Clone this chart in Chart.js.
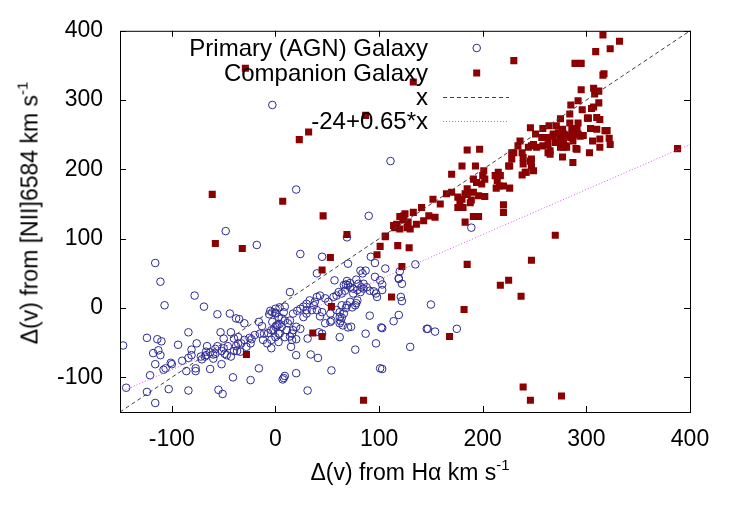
<!DOCTYPE html>
<html>
<head>
<meta charset="utf-8">
<script src="https://cdn.jsdelivr.net/npm/chart.js@4.4.1/dist/chart.umd.min.js"></script>
<style>
    html, body { margin: 0; padding: 0; background: #fff; }
    #wrap { position: relative; width: 736px; height: 515px; font-family: "Liberation Sans", Arial, sans-serif; color: #000; }
    #chart { position: absolute; left: 0; top: 0; }
    .axis-title { position: absolute; font-size: 23px; line-height: 1; white-space: nowrap; }
    .axis-title sup { font-size: 15px; position: relative; top: -4px; vertical-align: top; }
    #xTitle { left: 410px; top: 472px; transform: translate(-50%, -50%); }
    #yTitle { left: 30px; top: 213px; transform: translate(-50%, -50%) rotate(-90deg); }
    .key-label { position: absolute; right: 308px; font-size: 24px; line-height: 24px; height: 24px; white-space: nowrap; }
    .key-mark { position: absolute; left: 440px; width: 72px; height: 24px; }
</style>
</head>
<body>
<div id="wrap">
    <canvas id="chart" width="736" height="515"></canvas>
    <div class="axis-title" id="xTitle">&Delta;(v) from H&alpha; km s<sup>-1</sup></div>
    <div class="axis-title" id="yTitle">&Delta;(v) from [NII]6584 km s<sup>-1</sup></div>
    <div id="key"></div>
</div>

<script>
/* ====================================
   DATA
==================================== */

const xTickValues = [-100, 0, 100, 200, 300, 400];
const yTickValues = [-100, 0, 100, 200, 300, 400];

const keyLabels = ["Primary (AGN) Galaxy", "Companion Galaxy", "x", "-24+0.65*x"];

// end points of the two reference lines
const lineX = [-150, 400];
const identityY = [-150, 400];
const fitY = [-121.5, 236];

const primaryPoints = [
    [-78,18],[-107,4],[-69,2],[-56,-9],[-44,-8],[-38,-15],[-35,-16],[-30,-22],[-84,-35],[-124,-43],
    [-114,-45],[-110,-48],[-94,-53],[-147,-54],[-76,-51],[-118,-65],[-113,-61],[-111,-68],[-116,-81],[-106,-87],
    [-108,-89],[-100,-81],[-101,-79],[-121,-97],[-144,-115],[-124,-121],[-116,-137],[-103,-117],[-84,-119],[-86,-91],
    [-77,-91],[-77,-87],[-90,-76],[-84,-72],[-81,-60],[-71,-74],[-68,-70],[-63,-88],[-67,-68],[-63,-64],
    [-60,-73],[-58,-66],[-56,-55],[-52,-81],[-49,-66],[-52,-62],[-47,-68],[-46,-55],[-43,-70],[-40,-62],
    [-41,-100],[-24,-104],[-16,-87],[-55,-118],[-51,-124],[-43,-35],[-50,-44],[-40,-44],[-36,-51],[-38,-55],
    [-34,-63],[-33,-51],[-30,-46],[-25,-43],[-24,-51],[-36,-42],[-28,-56],[-37,-62],[-53,-35],[-23,-45],
    [-20,-39],[-15,-37],[-11,-37],[-7,-36],[-4,-32],[0,-27],[2,-25],[4,-23],[-12,-46],[-8,-51],
    [-4,-58],[0,-42],[3,-37],[-6,-9],[-3,-6],[0,-7],[-16,-20],[-13,-26],[-50,-58],[-60,-67],
    [-58,-59],[-67,-63],[-66,-55],[-72,-70],[-81,-68],
    [69,102],[24,78],[45,74],[70,64],[92,74],[96,65],[106,57],[135,63],[40,50],[57,40],
    [82,54],[87,54],[84,50],[78,41],[80,35],[69,39],[68,34],[66,33],[72,30],[75,28],
    [79,26],[83,30],[85,35],[91,25],[95,24],[97,21],[98,16],[96,45],[101,40],[119,42],
    [122,35],[121,16],[122,10],[119,-10],[114,-19],[91,-11],[102,-28],[97,-51],[130,-56],[146,-30],
    [87,-37],[77,-60],[101,-87],[54,-90],[20,-94],[9,-98],[8,-101],[34,-67],[41,-72],[20,-68],
    [15,-56],[16,-46],[20,-45],[31,-44],[42,-35],[45,-37],[62,-42],[63,-19],[65,-25],[70,-28],
    [73,-27],[62,-13],[64,-14],[54,-18],[48,-22],[53,-8],[43,-12],[45,-6],[40,-3],[35,-3],
    [30,-8],[27,-13],[24,-30],[20,-27],[17,-32],[16,-37],[14,-41],[0,-8],[3,-13],[6,-15],
    [9,-18],[-3,-20],[1,-25],[6,-27],[11,-32],[-2,-32],[4,-37],[9,-42],[-4,-46],[3,-49],
    [12,-22],[14,-18],[14,23],[40,16],[43,18],[48,14],[51,9],[56,16],[59,18],[61,23],
    [64,21],[67,25],[70,33],[72,36],[75,21],[79,11],[82,23],[85,28],[88,30],[77,4],
    [74,1],[69,4],[64,4],[59,-3],[62,-6],[66,-8],[68,0],[72,9],[78,7],[33,11],
    [30,6],[27,2],[24,-1],[21,-4],[17,-8],[30,-3],[37,4],[38,9],[-5,-4],[0,-1],
    [4,1],[9,2],[8,-6],[7,-103],[31,-119],[62,-22],[53,-20],
    [189,116],[120,53],[119,43],[103,34],[103,26],[150,5],[103,-29],[147,-30],[154,-34],[175,-30],[103,-88],
    [-3,293],[20,171],[111,212],[90,133],[-48,111],[-18,91],[-116,65],[-111,38]
];

const companionPoints = [
    [-29,346],[87,278],[32,254],[23,243],[133,326],[230,357],[-61,164],[7,154],[46,133],[69,106],
    [-58,93],[-32,86],[106,104],[53,73],[45,55],[98,77],[101,89],[118,90],[122,60],[129,87],
    [112,16],[54,2],[36,-36],[45,-41],[-28,-67],[85,-133],[168,-41],[182,-2],[237,17],[217,33],
    [225,40],[185,63],[247,69],[270,105],[239,-114],[246,-133],[276,-127],[388,230],
    [316,394],[332,385],[323,374],[309,370],[289,353],[295,353],[317,338],[316,336],[295,315],[307,317],
    [312,313],[308,309],[307,290],[305,288],[312,296],[292,299],[285,293],[296,286],[284,280],[301,274],
    [313,272],[284,267],[292,267],[286,259],[291,258],[277,258],[279,250],[281,248],[289,250],[297,249],
    [276,244],[278,239],[285,246],[280,234],[278,232],[306,241],[313,244],[322,245],[318,256],[310,258],
    [290,230],[303,224],[277,218],[287,210],[275,273],[302,274],[310,275],
    [246,260],[258,259],[264,263],[271,263],[304,259],[251,251],[257,246],[263,246],[268,248],[273,253],
    [278,251],[292,251],[236,241],[247,234],[252,232],[263,236],[270,239],[276,234],[281,232],[228,224],
    [238,224],[239,217],[247,215],[263,224],[265,222],[226,205],[239,208],[247,205],[249,198],[242,196],
    [238,192],[246,212],[185,228],[197,229],[180,205],[193,205],[201,198],[200,191],[202,186],[191,186],
    [194,181],[199,179],[215,196],[217,191],[212,191],[214,184],[216,176],[220,176],[226,173],[213,173],
    [185,172],[183,165],[191,167],[196,162],[202,161],[189,156],[188,152],[180,157],[181,145],[191,132],
    [196,132],[183,124],[220,149],[220,138],[170,193],[152,157],[159,150],[154,131],[148,133],[143,126],
    [136,121],[130,114],[125,136],[133,138],[141,145],[165,165],[170,167],[176,160],[178,152],[176,145],
    [185,164],[230,224],[228,215],[225,205],[241,196],[120,132],[124,133],[123,127],[117,121],[115,116],
    [120,114],[127,116],[128,124],[114,119],[106,103],[234,234],[244,232],[249,236],[258,234],[265,227],
    [275,232],[291,229],[313,232],[323,236],[268,251],[286,251],[275,244],[287,241],[294,248],[320,256]
];

/* ====================================
   STYLE
==================================== */

const FONT = "'Liberation Sans', Arial, sans-serif";
const BLUE = "#2c2c94";
const RED = "#8b0000";
const DASH_GREY = "#404040";
const FIT_PINK = "#d25cf0";

/* ====================================
   FRAME + INWARD TICKS
==================================== */

const frameTicks = {

    id: "frameTicks",

    afterDatasetsDraw(chart) {

        const { ctx, chartArea: a, scales } = chart;
        const len = 6;

        ctx.save();
        ctx.strokeStyle = "#000";
        ctx.lineWidth = 1;

        ctx.strokeRect(a.left + .5, a.top + .5, a.right - a.left, a.bottom - a.top);

        ctx.beginPath();

        xTickValues.forEach(v => {
            const px = Math.round(scales.x.getPixelForValue(v)) + .5;
            ctx.moveTo(px, a.bottom);
            ctx.lineTo(px, a.bottom - len);
            ctx.moveTo(px, a.top);
            ctx.lineTo(px, a.top + len);
        });

        yTickValues.forEach(v => {
            const py = Math.round(scales.y.getPixelForValue(v)) + .5;
            ctx.moveTo(a.left, py);
            ctx.lineTo(a.left + len, py);
            ctx.moveTo(a.right, py);
            ctx.lineTo(a.right - len, py);
        });

        ctx.stroke();
        ctx.restore();

    }

};

/* ====================================
   CHART
==================================== */

function toXY(points) {
    return points.map(p => ({ x: p[0], y: p[1] }));
}

function createScatterChart() {

    const canvas = document.getElementById("chart");

    new Chart(canvas, {

        type: "scatter",

        data: {

            datasets: [
                {
                    label: keyLabels[3],
                    data: lineX.map((x, i) => ({ x: x, y: fitY[i] })),
                    showLine: true,
                    pointRadius: 0,
                    borderColor: FIT_PINK,
                    borderWidth: 1,
                    borderDash: [1, 2]
                },
                {
                    label: keyLabels[2],
                    data: lineX.map((x, i) => ({ x: x, y: identityY[i] })),
                    showLine: true,
                    pointRadius: 0,
                    borderColor: DASH_GREY,
                    borderWidth: 1,
                    borderDash: [4, 3]
                },
                {
                    label: keyLabels[1],
                    data: toXY(companionPoints),
                    pointStyle: "rect",
                    pointRadius: 5,
                    backgroundColor: RED,
                    borderColor: RED,
                    borderWidth: 0
                },
                {
                    label: keyLabels[0],
                    data: toXY(primaryPoints),
                    pointStyle: "circle",
                    pointRadius: 3.8,
                    backgroundColor: "rgba(0,0,0,0)",
                    borderColor: BLUE,
                    borderWidth: 1
                }
            ]

        },

        options: {

            responsive: false,
            animation: false,

            layout: {
                padding: { left: 0, top: 29, right: 46, bottom: 0 }
            },

            plugins: {
                legend: { display: false },
                tooltip: { enabled: false }
            },

            scales: {

                x: {
                    type: "linear",
                    min: -150,
                    max: 400,
                    afterBuildTicks: s => { s.ticks = xTickValues.map(v => ({ value: v })); },
                    afterFit: s => { s.height = 103; },
                    grid: { display: false, drawTicks: false },
                    border: { display: false },
                    ticks: {
                        color: "#000",
                        font: { family: FONT, size: 23 },
                        padding: 14,
                        maxRotation: 0,
                        autoSkip: false
                    }
                },

                y: {
                    type: "linear",
                    min: -150,
                    max: 400,
                    afterBuildTicks: s => { s.ticks = yTickValues.map(v => ({ value: v })); },
                    afterFit: s => { s.width = 120; },
                    grid: { display: false, drawTicks: false },
                    border: { display: false },
                    ticks: {
                        color: "#000",
                        font: { family: FONT, size: 23 },
                        padding: 17,
                        autoSkip: false
                    }
                }

            }

        },

        plugins: [frameTicks]

    });

}

/* ====================================
   KEY (gnuplot style, top left)
==================================== */

function buildKey() {

    const key = document.getElementById("key");
    const rowCentres = [48, 72.7, 97.3, 121];

    const marks = [
        `<circle cx="36.7" cy="12" r="3.8" fill="none" stroke="${BLUE}" stroke-width="1"/>`,
        `<rect x="33.2" y="8.5" width="7" height="7" fill="${RED}"/>`,
        `<line x1="3" y1="12.5" x2="69" y2="12.5" stroke="${DASH_GREY}" stroke-width="1" stroke-dasharray="4 3"/>`,
        `<line x1="3" y1="12.5" x2="69" y2="12.5" stroke="${FIT_PINK}" stroke-width="1" stroke-dasharray="1 2"/>`
    ];

    keyLabels.forEach((text, i) => {

        const top = rowCentres[i] - 12;

        const label = document.createElement("div");
        label.className = "key-label";
        label.style.top = top + "px";
        label.textContent = text;
        key.appendChild(label);

        const mark = document.createElement("div");
        mark.className = "key-mark";
        mark.style.top = top + "px";
        mark.innerHTML = `<svg width="72" height="24">${marks[i]}</svg>`;
        key.appendChild(mark);

    });

}

document.addEventListener("DOMContentLoaded", () => {

    createScatterChart();

    buildKey();

});
</script>
</body>
</html>
